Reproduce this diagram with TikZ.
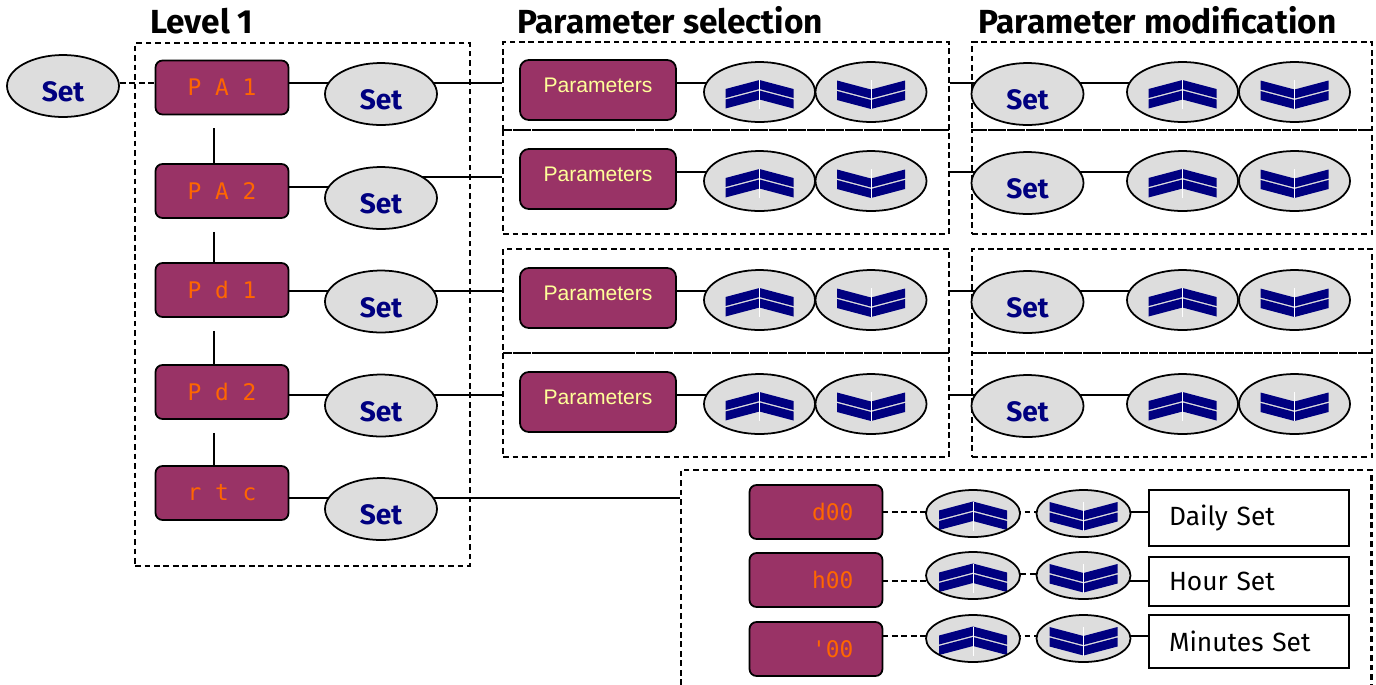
\documentclass[tikz,border=0pt]{standalone}
\usepackage{fontspec}
\usepackage{tikz}
\usetikzlibrary{shapes.geometric, backgrounds}
\newfontfamily\keyfont{Fira Sans}
\newfontfamily\arialfont{Liberation Sans}
\newfontfamily\segfont{DejaVu Sans Mono}
\definecolor{dispred}{HTML}{993366}
\definecolor{keygray}{HTML}{DDDDDD}
\definecolor{keyblue}{HTML}{000080}
\definecolor{segorange}{HTML}{FF6600}
\definecolor{paryellow}{HTML}{FFFF99}

% chevrons drawn inside the arrow keys
\newcommand\chevup[1]{%
    \fill[keyblue, shift={(path picture bounding box.center)}, scale=#1]
        (-34,-3) -- (0,-12) -- (34,-3) -- (34,6) -- (0,-3) -- (-34,6) -- cycle
        (-34,7.5) -- (0,-1.5) -- (34,7.5) -- (34,16.5) -- (0,7.5) -- (-34,16.5) -- cycle;
    \draw[white, line width=0.4pt, shift={(path picture bounding box.center)}, scale=#1] (0,-12) -- (0,17);}
\newcommand\chevdown[1]{%
    \fill[keyblue, shift={(path picture bounding box.center)}, scale=#1]
        (-34,-11.5) -- (0,-2.5) -- (34,-11.5) -- (34,-2.5) -- (0,6.5) -- (-34,-2.5) -- cycle
        (-34,-1) -- (0,8) -- (34,-1) -- (34,8) -- (0,17) -- (-34,8) -- cycle;
    \draw[white, line width=0.4pt, shift={(path picture bounding box.center)}, scale=#1] (0,-12) -- (0,17);}

\tikzset{
    grp/.style={draw, line width=1.2pt, dash pattern=on 3.2pt off 2.2pt, inner sep=0pt},
    display/.style={draw, line width=1pt, fill=dispred, rounded corners=4pt, minimum width=2.66cm, minimum height=1.08cm, text=segorange, font=\segfont\fontsize{13}{13}\selectfont},
    key/.style={ellipse, draw, line width=1pt, fill=keygray, inner sep=0pt},
    setkey/.style={key, minimum width=2.24cm, minimum height=1.24cm, text=keyblue, font=\keyfont\bfseries\fontsize{16}{16}\selectfont, text height=0.63cm, text depth=0pt},
    upkey/.style={key, minimum width=2.22cm, minimum height=1.2cm, path picture={\chevup{1}}},
    downkey/.style={key, minimum width=2.22cm, minimum height=1.2cm, path picture={\chevdown{1}}},
    smallup/.style={key, minimum width=1.88cm, minimum height=0.94cm, path picture={\chevup{0.8}}},
    smalldown/.style={key, minimum width=1.88cm, minimum height=0.94cm, path picture={\chevdown{0.8}}},
    parbox/.style={draw, line width=1pt, fill=dispred, rounded corners=5pt, minimum width=3.12cm, minimum height=1.2cm, text=paryellow, font=\arialfont\fontsize{12}{12}\selectfont, text depth=0.5em},
    namebox/.style={draw, line width=1pt, minimum width=4cm, text width=3.2cm, align=left, font=\keyfont\fontsize{15}{15}\selectfont},
    link/.style={line width=1pt},
    dashlink/.style={link, dash pattern=on 3.2pt off 2.2pt},
    title/.style={anchor=base west, inner sep=0pt, font=\keyfont\bfseries\fontsize{19}{22}\selectfont}
}

\begin{document}
\begin{tikzpicture}[x=0.02cm, y=-0.02cm]
    \useasboundingbox (0,0) rectangle (1376,684);

    % Titles
    \node[title] (lvltitle) at (150,33) {Level 1};
    \node[title] (seltitle) at (517,33) {Parameter selection};
    \node[title] (modtitle) at (978,33) {Parameter modification};

    % Level 1
    \node[grp, minimum width=6.7cm, minimum height=10.46cm] (lvl) at (302.5,304.5) {};
    \node[setkey] (set0) at (63,86) {Set};
    \node[display] (pa1) at (222,87.5) {P A 1};
    \node[display] (pa2) at (222,191) {P A 2};
    \node[display] (pd1) at (222,290) {P d 1};
    \node[display] (pd2) at (222,392) {P d 2};
    \node[display] (rtc) at (222,493) {r t c};
    \node[setkey] (s1) at (381,94) {Set};
    \node[setkey] (s2) at (381,198) {Set};
    \node[setkey] (s3) at (381,301.5) {Set};
    \node[setkey] (s4) at (381,405.5) {Set};
    \node[setkey] (s5) at (381,509) {Set};

    % Parameter selection and modification rows
    \foreach \i/\b/\h/\k in {1/86/1.76/92, 2/182/2.08/181, 3/301/2.08/300, 4/405/2.08/404} {
        \node[grp, minimum width=8.92cm, minimum height=\h cm] (sel\i) at (726,\b) {};
        \node[grp, minimum width=8cm, minimum height=\h cm] (mod\i) at (1172,\b) {};
        \node[parbox] (par\i) at (598,\k-2) {Parameters};
        \node[upkey] (up\i) at (759.5,\k) {};
        \node[downkey] (dn\i) at (871,\k) {};
        \node[setkey] (mset\i) at (1027.5,\k+2) {Set};
        \node[upkey] (mup\i) at (1182.5,\k) {};
        \node[downkey] (mdn\i) at (1294.5,\k) {};
        \coordinate (lv\i) at (0,\k-9);
        \begin{scope}[on background layer]
            \draw[link] (par\i |- lv\i) -- (up\i |- lv\i);
            \draw[link] (sel\i.east |- lv\i) -- (mset\i |- lv\i) -- (mup\i |- lv\i);
        \end{scope}
    }

    % Clock settings
    \node[grp, minimum width=13.82cm, minimum height=4.8cm] (rtcbox) at (1026,590) {};
    \node[display, text width=1.5cm, align=right] (day) at (816,512) {d00};
    \node[display, text width=1.5cm, align=right] (hour) at (816,580) {h00};
    \node[display, text width=1.5cm, align=right] (minute) at (816,649) {\textquotesingle 00};
    \node[smallup] (du) at (973,513.5) {};
    \node[smalldown] (dd) at (1083.5,513.5) {};
    \node[smallup] (hu) at (973,575.5) {};
    \node[smalldown] (hd) at (1083.5,575.5) {};
    \node[smallup] (mu) at (973,638.5) {};
    \node[smalldown] (md) at (1083.5,638.5) {};
    \node[namebox, minimum height=1.12cm] (dayset) at (1249,518) {Daily Set};
    \node[namebox, minimum height=0.98cm] (hourset) at (1249,581.5) {Hour Set};
    \node[namebox, minimum height=1.06cm] (minset) at (1249,641.5) {Minutes Set};

    % Connections
    \coordinate (lv2a) at (0,187);
    \coordinate (lv2b) at (0,177);
    \coordinate (lv5) at (0,498);
    \coordinate (t1) at (0,512);
    \coordinate (t2) at (0,581);
    \coordinate (t2m) at (0,574);
    \coordinate (t3) at (0,636);
    \begin{scope}[on background layer]
        \draw[dashlink] (set0 |- lv1) -- (pa1 |- lv1);
        \draw[link] (pa1 |- lv1) -- (s1 |- lv1) -- (sel1.west |- lv1);
        \draw[link] (pa2 |- lv2a) -- (s2 |- lv2a);
        \draw[link] (s2 |- lv2b) -- (sel2.west |- lv2b);
        \draw[link] (pd1 |- lv3) -- (s3 |- lv3) -- (sel3.west |- lv3);
        \draw[link] (pd2 |- lv4) -- (s4 |- lv4) -- (sel4.west |- lv4);
        \draw[link] (rtc |- lv5) -- (s5 |- lv5) -- (rtcbox.west |- lv5);
        \foreach \a/\c in {pa1/pa2, pa2/pd1, pd1/pd2, pd2/rtc}
            \draw[link] ([xshift=-0.16cm, yshift=-0.26cm]\a.south) -- ([xshift=-0.16cm]\c.north);

        \draw[dashlink] (day |- t1) -- (du |- t1) -- (dd |- t1);
        \draw[link] (dd |- t1) -- (dayset.west |- t1);
        \draw[dashlink] (hour |- t2) -- (hu |- t2);
        \draw[dashlink] (hu |- t2m) -- (hd |- t2m);
        \draw[link] (hd |- t2) -- (hourset.west |- t2);
        \draw[dashlink] (minute |- t3) -- (mu |- t3) -- (md |- t3);
        \draw[link] (md |- t3) -- (minset.west |- t3);
    \end{scope}
\end{tikzpicture}
\end{document}
